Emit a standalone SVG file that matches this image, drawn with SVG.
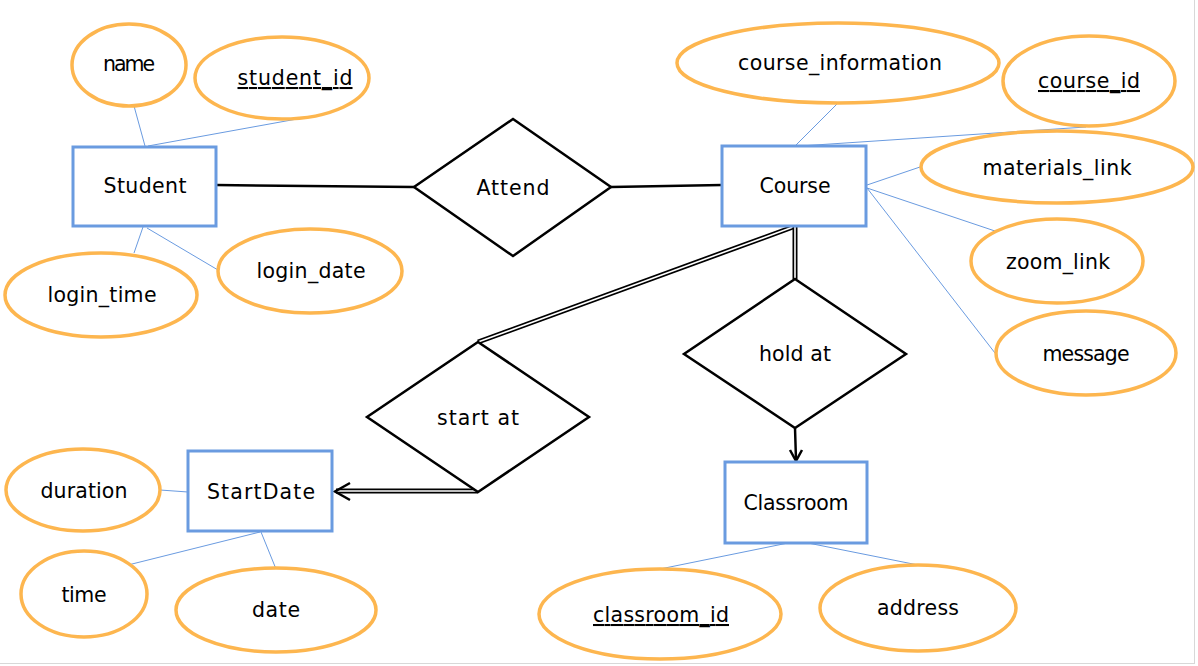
<svg xmlns="http://www.w3.org/2000/svg" width="1198" height="666" viewBox="0 0 1198 666">
<style>
text{font-family:"DejaVu Sans","Liberation Sans",sans-serif;font-size:20.5px;fill:#000;text-anchor:middle}
.ent{fill:#fff;stroke:#6A9BE0;stroke-width:3}
.att{fill:#fff;stroke:#FDB64F;stroke-width:3.5}
.rel{fill:#fff;stroke:#000;stroke-width:2.5;stroke-linejoin:miter}
.al{stroke:#6A9BE0;stroke-width:1;fill:none}
.ln{stroke:#000;stroke-width:2.5;fill:none}
.dbo{stroke:#000;stroke-width:5;fill:none}
.dbi{stroke:#fff;stroke-width:1.6;fill:none}
.u{text-decoration:underline}
</style>
<rect width="1198" height="666" fill="#fff"/>
<line x1="1194.5" y1="0" x2="1194.5" y2="664" stroke="#d8d8d8" stroke-width="1"/>
<line x1="0" y1="663.5" x2="1195" y2="663.5" stroke="#d8d8d8" stroke-width="1"/>
<g id="connectors">
<line class="al" x1="134" y1="106" x2="145" y2="146"/>
<line class="al" x1="297" y1="119" x2="148" y2="146"/>
<line class="al" x1="143" y1="227" x2="134" y2="253"/>
<line class="al" x1="147" y1="228" x2="218" y2="270"/>
<line class="al" x1="838" y1="103" x2="795" y2="146"/>
<line class="al" x1="1086" y1="127" x2="800" y2="146"/>
<line class="al" x1="867" y1="185" x2="920" y2="167"/>
<line class="al" x1="867" y1="188" x2="995" y2="231"/>
<line class="al" x1="867" y1="188" x2="995" y2="353"/>
<line class="al" x1="160" y1="490" x2="188" y2="492"/>
<line class="al" x1="128" y1="565" x2="260" y2="532"/>
<line class="al" x1="261" y1="532" x2="276" y2="569"/>
<line class="al" x1="660" y1="569" x2="788" y2="543"/>
<line class="al" x1="808" y1="543" x2="918" y2="565"/>
<line class="ln" x1="216" y1="185" x2="414" y2="187"/>
<line class="ln" x1="611" y1="187" x2="722" y2="185"/>
<path class="dbo" d="M793 227 L478 342"/>
<path class="dbi" d="M793 227 L478 342"/>
<path class="dbo" d="M795 227 L795 279"/>
<path class="dbi" d="M795 227 L795 279"/>
<path class="dbo" d="M478 491 L336 491"/>
<path class="dbi" d="M478 491 L336 491"/>
<polyline class="ln" points="350,483 335,491.5 350,500"/>
<line class="ln" x1="795" y1="428" x2="796" y2="460"/>
<polyline class="ln" points="790,450 796,461 802,450"/>
</g>
<g id="Student"><rect class="ent" x="73" y="147" width="143" height="79"/><text x="145" y="193" textLength="83">Student</text></g>
<g id="Course"><rect class="ent" x="722" y="146" width="144" height="80"/><text x="795" y="193" textLength="71">Course</text></g>
<g id="StartDate"><rect class="ent" x="188" y="451" width="144" height="80"/><text x="261" y="499" textLength="108">StartDate</text></g>
<g id="Classroom"><rect class="ent" x="725" y="462" width="142" height="81"/><text x="796" y="510" textLength="105">Classroom</text></g>
<g id="Attend"><polygon class="rel" points="513,119 611,187 513,256 414,187"/><text x="513" y="195" textLength="73">Attend</text></g>
<g id="hold_at"><polygon class="rel" points="795,279 906,354 795,428 684,354"/><text x="795" y="361" textLength="72">hold at</text></g>
<g id="start_at"><polygon class="rel" points="478,342 589,417 478,492 367,417"/><text x="478" y="425" textLength="82">start at</text></g>
<g id="name"><ellipse class="att" cx="129" cy="65" rx="57" ry="41"/><text x="129" y="71" textLength="52">name</text></g>
<g id="student_id"><ellipse class="att" cx="282" cy="78" rx="87" ry="41"/><text class="u" x="295" y="85" textLength="115">student_id</text></g>
<g id="login_time"><ellipse class="att" cx="101" cy="295" rx="96" ry="42"/><text x="102" y="302" textLength="109">login_time</text></g>
<g id="login_date"><ellipse class="att" cx="310" cy="271" rx="92" ry="42"/><text x="311" y="278" textLength="109">login_date</text></g>
<g id="course_information"><ellipse class="att" cx="838" cy="63" rx="161" ry="40"/><text x="840" y="70" textLength="204">course_information</text></g>
<g id="course_id"><ellipse class="att" cx="1089" cy="81" rx="86" ry="45"/><text class="u" x="1089" y="88" textLength="102">course_id</text></g>
<g id="materials_link"><ellipse class="att" cx="1057" cy="167" rx="136" ry="36"/><text x="1057" y="175" textLength="149">materials_link</text></g>
<g id="zoom_link"><ellipse class="att" cx="1057" cy="261" rx="86" ry="42"/><text x="1058" y="269" textLength="104">zoom_link</text></g>
<g id="message"><ellipse class="att" cx="1086" cy="353" rx="90" ry="42"/><text x="1086" y="361" textLength="87">message</text></g>
<g id="duration"><ellipse class="att" cx="83" cy="490" rx="77" ry="41"/><text x="84" y="498" textLength="87">duration</text></g>
<g id="time"><ellipse class="att" cx="84" cy="594" rx="63" ry="43"/><text x="84" y="602" textLength="45">time</text></g>
<g id="date"><ellipse class="att" cx="276" cy="610" rx="100" ry="42"/><text x="276" y="617" textLength="48">date</text></g>
<g id="classroom_id"><ellipse class="att" cx="660" cy="614" rx="121" ry="45"/><text class="u" x="661" y="622" textLength="136">classroom_id</text></g>
<g id="address"><ellipse class="att" cx="918" cy="608" rx="98" ry="43"/><text x="918" y="615" textLength="82">address</text></g>
</svg>
